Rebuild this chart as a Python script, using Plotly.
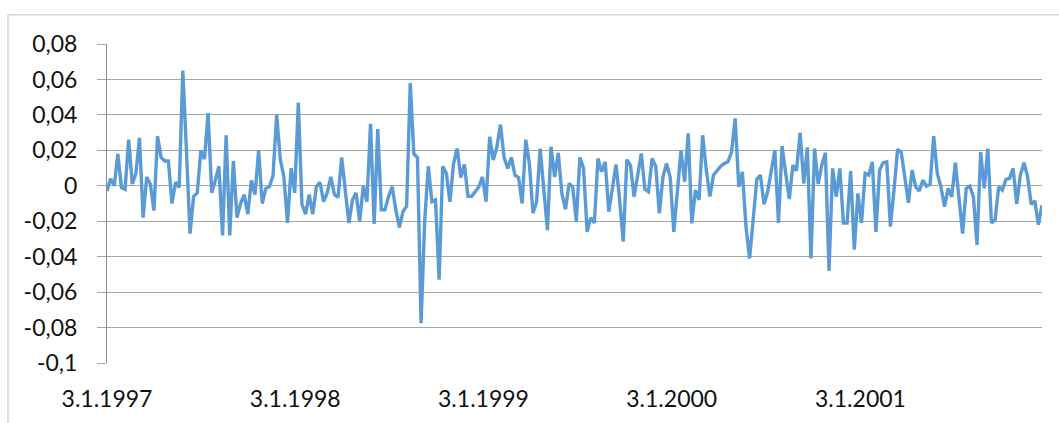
import plotly.graph_objects as go
import pandas as pd

# Weekly returns, starting 3.1.1997
values = [
    -0.003, 0.004, 0.0, 0.018, -0.001, -0.002, 0.026, 0.001, 0.007, 0.027,
    -0.018, 0.005, 0.001, -0.014, 0.028, 0.016, 0.014, 0.014, -0.010, 0.002,
    -0.001, 0.065, 0.02, -0.027, -0.006, -0.004, 0.020, 0.015, 0.041, -0.004,
    0.003, 0.011, -0.028, 0.0285, -0.028, 0.014, -0.018, -0.010, -0.005, -0.016,
    0.003, -0.005, 0.020, -0.010, -0.0015, -0.0005, 0.006, 0.040, 0.015, 0.005,
    -0.021, 0.010, -0.004, 0.047, -0.0105, -0.016, -0.005, -0.016, -0.0005, 0.002,
    -0.009, -0.004, 0.005, -0.005, -0.0065, 0.016, -0.0025, -0.021, -0.008, -0.004,
    -0.020, 0.0, -0.009, 0.035, -0.0215, 0.032, -0.0135, -0.0135, -0.006, -0.0005,
    -0.0135, -0.0235, -0.0145, -0.0115, 0.058, 0.018, 0.016, -0.0775, -0.02, 0.011,
    -0.009, -0.008, -0.053, 0.011, 0.007, -0.009, 0.0125, 0.021, 0.0047, 0.012,
    -0.006, -0.006, -0.0034, -0.0006, 0.005, -0.009, 0.0276, 0.0145, 0.022, 0.0345,
    0.016, 0.0098, 0.016, 0.006, 0.0047, -0.010, 0.026, 0.0125, -0.0155, -0.009,
    0.021, -0.0006, -0.025, 0.022, 0.005, 0.0186, -0.0043, -0.0133, 0.0013, -0.0006,
    -0.020, 0.016, 0.0098, -0.026, -0.018, -0.021, 0.0154, 0.0079, 0.0135, -0.0146,
    -0.0006, 0.012, -0.008, -0.0315, 0.0148, 0.0116, -0.0062, 0.0066, 0.0182, -0.002,
    -0.0034, 0.0154, 0.011, -0.0156, 0.005, 0.0126, 0.005, -0.026, -0.0015, 0.020,
    0.0023, 0.0295, -0.0212, -0.0024, -0.008, 0.0285, 0.009, -0.006, 0.006, 0.0088,
    0.011, 0.0126, 0.0135, 0.019, 0.038, -0.0006, 0.0079, -0.023, -0.041, -0.019,
    0.0036, 0.006, -0.0105, -0.0034, 0.0079, 0.020, -0.021, 0.0224, 0.007, -0.0075,
    0.0116, 0.0085, 0.030, 0.0013, 0.0216, -0.041, 0.021, 0.001, 0.0116, 0.0186,
    -0.048, 0.0098, -0.0062, 0.0098, -0.021, -0.021, 0.0083, -0.036, -0.0043, -0.021,
    0.007, 0.006, 0.0135, -0.026, 0.0088, 0.013, 0.0135, -0.023, -0.0024, 0.0205,
    0.019, 0.005, -0.0096, 0.0088, -0.0006, -0.003, 0.0032, -0.0002, 0.0009, 0.028,
    0.007, -0.0006, -0.0118, -0.0015, -0.0062, 0.013, -0.0062, -0.027, -0.0015, -0.0002,
    -0.0062, -0.0334, 0.019, -0.0015, 0.021, -0.021, -0.0193, -0.0006, -0.0024, 0.0036,
    0.0041, 0.0098, -0.0103, 0.006, 0.013, 0.0054, -0.0105, -0.0085, -0.022, -0.011,
]
dates = pd.date_range("1997-01-03", periods=len(values), freq="7D")

x_tick_vals = ["1997-01-03", "1998-01-03", "1999-01-03", "2000-01-03", "2001-01-03"]
x_tick_text = ["3.1.1997", "3.1.1998", "3.1.1999", "3.1.2000", "3.1.2001"]
y_tick_vals = [-0.1, -0.08, -0.06, -0.04, -0.02, 0.0, 0.02, 0.04, 0.06, 0.08]
y_tick_text = ["-0,1", "-0,08", "-0,06", "-0,04", "-0,02", "0", "0,02", "0,04", "0,06", "0,08"]

fig = go.Figure()
fig.add_trace(go.Scatter(
    x=dates, y=values, mode="lines",
    line=dict(color="#5b9bd5", width=3.4),
    showlegend=False,
))

grid = "#a6a6a6"
fig.update_layout(
    width=1059, height=423,
    margin=dict(l=107, r=17, t=44, b=60),
    paper_bgcolor="white", plot_bgcolor="white",
    font=dict(family="Lato, 'Open Sans', sans-serif", size=23, color="#111111"),
    xaxis=dict(
        type="date",
        range=[dates[0], dates[-1]],
        tickvals=x_tick_vals, ticktext=x_tick_text,
        showgrid=False, showline=False, zeroline=False, ticks="",
        ticklabelstandoff=20,
    ),
    yaxis=dict(
        range=[-0.1, 0.08],
        tickvals=y_tick_vals, ticktext=y_tick_text,
        showgrid=True, gridcolor=grid, gridwidth=1,
        zeroline=False,
        showline=True, linecolor="#8c8c8c", linewidth=1,
        ticks="outside", ticklen=9, tickcolor=grid,
        ticklabelstandoff=15,
    ),
    shapes=[dict(
        type="rect", xref="paper", yref="paper",
        x0=-0.1059, x1=1.2, y0=-0.5, y1=1.0914,
        line=dict(color="#bfbfbf", width=1), fillcolor="rgba(0,0,0,0)",
        layer="below",
    )],
)

fig.write_html("out.html")
